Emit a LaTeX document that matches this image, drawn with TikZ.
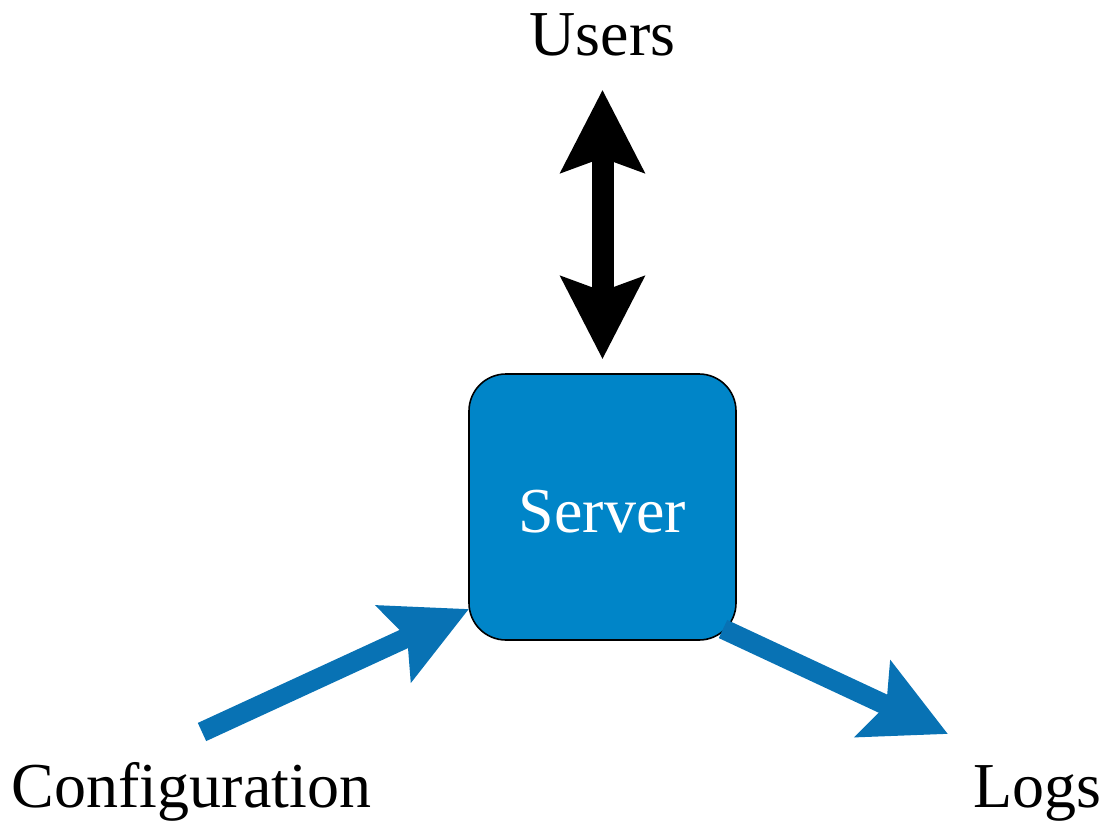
\documentclass[tikz,border=0pt]{standalone}
\usepackage{fontspec}
\setmainfont{LiberationSerif}[
  Extension=.ttf,
  UprightFont=*-Regular,
  BoldFont=*-Bold,
  ItalicFont=*-Italic,
  BoldItalicFont=*-BoldItalic]
\usetikzlibrary{arrows.meta}
\definecolor{boxblue}{HTML}{0085C8}
\definecolor{flowblue}{HTML}{0872B4}
\tikzset{
  label text/.style={inner sep=0pt, anchor=base, font=\fontsize{64}{70}\selectfont},
  serverbox/.style={draw=black, line width=1.6pt, fill=boxblue, rounded corners=37pt,
    minimum width=267pt, minimum height=266pt, inner sep=0pt},
  bigtip/.tip={Stealth[length=82pt, width=82pt, inset=14pt]},
  twoway/.style={draw=black, line width=22pt, {bigtip}-{bigtip}},
  flow/.style={draw=flowblue, line width=20pt, -{bigtip[fill=flowblue]}},
}
\begin{document}
\begin{tikzpicture}[x=1pt, y=-1pt]
  \useasboundingbox (0,0) rectangle (1109,822);

  % central server box
  \node[serverbox] (server) at (602.5,507) {};
  \node[label text, text=white] (servername) at (602.5,532) {Server};

  % surrounding parties
  \node[label text] (users) at (602.5,55) {Users};
  \node[label text] (config) at (191.5,807) {Configuration};
  \node[label text] (logs) at (1037,807) {Logs};

  % connector end points next to the box
  \coordinate (cfgtail) at (202,732);
  \coordinate (cfgtip) at (469,609);
  \coordinate (logtail) at (723,629);
  \coordinate (logtip) at (948,734);

  % connectors
  \draw[twoway, shorten <=34pt, shorten >=14pt] (users) -- (server);
  \draw[flow] (cfgtail) -- (cfgtip);
  \draw[flow] (logtail) -- (logtip);
\end{tikzpicture}
\end{document}
